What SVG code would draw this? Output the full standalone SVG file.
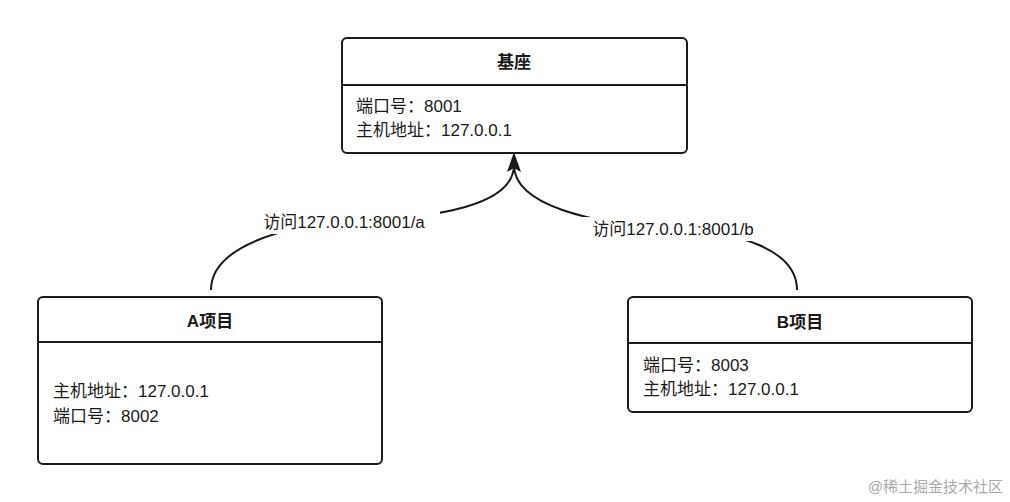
<svg xmlns="http://www.w3.org/2000/svg" width="1010" height="502" viewBox="0 0 1010 502">
<defs>
<style>
.box{fill:#fff;stroke:#1a1a1a;stroke-width:2}
.t{font-family:"Liberation Sans","Noto Sans CJK SC",sans-serif;font-size:17px;fill:#1a1a1a}
.h{font-weight:bold;text-anchor:middle}
.c{fill:none;stroke:#1a1a1a;stroke-width:2}
.lbl{font-family:"Liberation Sans","Noto Sans CJK SC",sans-serif;font-size:17px;fill:#1a1a1a;text-anchor:middle}
</style>
<marker id="arr" viewBox="0 0 10 10" refX="9" refY="5" markerWidth="8" markerHeight="8" markerUnits="userSpaceOnUse" orient="auto"><path d="M0,0 L10,5 L0,10 z" fill="#1a1a1a"/></marker>
</defs>
<rect width="1010" height="502" fill="#fff"/>
<g id="connectors">
<path class="c" d="M211,290 C211,245 290,225 345,222 C440,218 514,205 514,165"/>
<path class="c" d="M797,290 C797,250 740,232 673,228 C590,224 514,205 514,165"/>
<path d="M514,152 L521,172 L514,168 L507,172 z" fill="#1a1a1a"/>
<rect x="248" y="210" width="192" height="24" fill="#fff"/>
<text class="lbl" x="344" y="228">访问127.0.0.1:8001/a</text>
<rect x="577" y="217" width="193" height="24" fill="#fff"/>
<text class="lbl" x="673" y="235">访问127.0.0.1:8001/b</text>
</g>
<g id="base">
<rect class="box" x="342" y="38" width="345" height="115" rx="5"/>
<line x1="342" y1="85" x2="687" y2="85" stroke="#1a1a1a" stroke-width="2"/>
<text class="t h" x="514" y="68">基座</text>
<text class="t" x="356" y="112">端口号：8001</text>
<text class="t" x="356" y="136">主机地址：127.0.0.1</text>
</g>
<g id="projA">
<rect class="box" x="38" y="297" width="344" height="167" rx="5"/>
<line x1="38" y1="342" x2="382" y2="342" stroke="#1a1a1a" stroke-width="2"/>
<text class="t h" x="210" y="327">A项目</text>
<text class="t" x="53" y="397">主机地址：127.0.0.1</text>
<text class="t" x="53" y="422">端口号：8002</text>
</g>
<g id="projB">
<rect class="box" x="628" y="297" width="344" height="115" rx="5"/>
<line x1="628" y1="343" x2="972" y2="343" stroke="#1a1a1a" stroke-width="2"/>
<text class="t h" x="800" y="328">B项目</text>
<text class="t" x="643" y="371">端口号：8003</text>
<text class="t" x="643" y="395">主机地址：127.0.0.1</text>
</g>
<text x="1003" y="492" text-anchor="end" font-family="Liberation Sans,Noto Sans CJK SC,sans-serif" font-size="15" fill="#aaa">@稀土掘金技术社区</text>
</svg>
